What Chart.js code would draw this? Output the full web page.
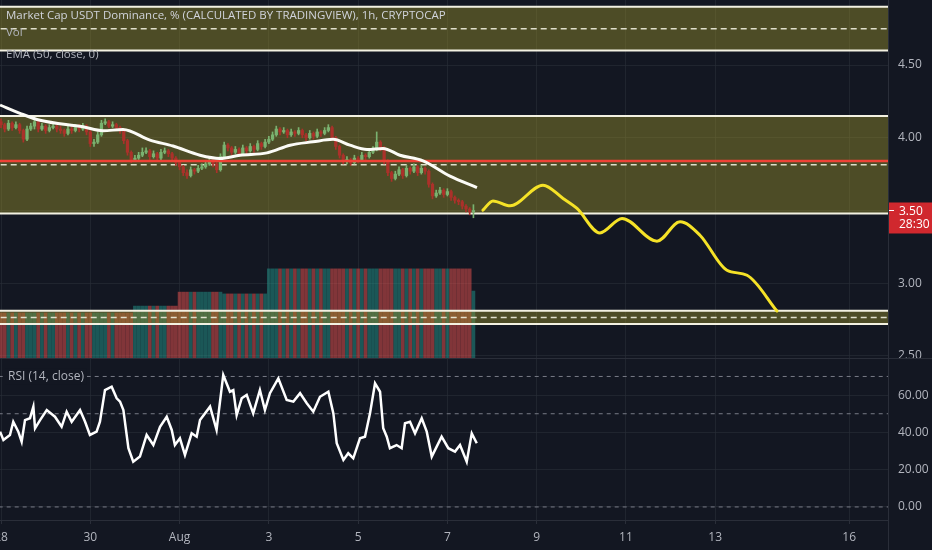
<!DOCTYPE html>
<html>
<head>
<meta charset="utf-8">
<title>Market Cap USDT Dominance</title>
<script src="https://cdn.jsdelivr.net/npm/chart.js@4.4.1/dist/chart.umd.min.js"></script>
<style>
  html, body { margin: 0; padding: 0; background: #131722; overflow: hidden; }
  .pane { position: absolute; left: 0; width: 932px; }
</style>
</head>
<body>
<div class="pane" style="top:0;height:358px"><canvas id="priceChart" width="932" height="358"></canvas></div>
<div class="pane" style="top:358px;height:192px"><canvas id="rsiChart" width="932" height="192"></canvas></div>
<script>
const FONT = "'Open Sans', 'Noto Sans', sans-serif";
const BG = '#131722';
const GRID = 'rgba(42, 46, 57, 0.6)';
const SEP = '#2a2e39';
const TEXT = '#b2b5be';

// time axis, in hours since 28 Jul 00:00
const tickHours = [0, 48, 96, 144, 192, 240, 288, 336, 384, 456];
const tickLabels = ['28', '30', 'Aug', '3', '5', '7', '9', '11', '13', '16'];
const priceTicks = [2.5, 3.0, 3.5, 4.0, 4.5];
const rsiTicks = [0, 20, 40, 60];

// 2h candles starting 28 Jul 00:00
const firstOpen = 4.11;
const closes = [
  4.09, 4.06, 4.10, 4.07, 4.09, 4.05, 3.99, 4.06, 4.08, 4.11,
  4.06, 4.08, 4.05, 4.07, 4.08, 4.06, 4.05, 4.03, 4.06, 4.05,
  4.07, 4.06, 4.08, 4.04, 3.96, 3.97, 4.02, 4.10, 4.11, 4.08,
  4.09, 4.07, 4.05, 3.98, 3.90, 3.85, 3.86, 3.88, 3.90, 3.91,
  3.87, 3.89, 3.86, 3.90, 3.91, 3.89, 3.86, 3.83, 3.80, 3.76,
  3.74, 3.78, 3.77, 3.79, 3.80, 3.82, 3.84, 3.82, 3.78, 3.87,
  3.95, 3.93, 3.90, 3.92, 3.89, 3.93, 3.91, 3.94, 3.92, 3.96,
  3.94, 3.97, 3.99, 4.02, 4.06, 4.04, 4.05, 4.02, 4.04, 4.03,
  4.05, 4.02, 4.00, 4.03, 4.01, 4.04, 4.03, 4.05, 4.07, 4.00,
  3.94, 3.88, 3.84, 3.85, 3.83, 3.86, 3.85, 3.88, 3.87, 3.90,
  3.92, 3.97, 3.93, 3.84, 3.76, 3.72, 3.75, 3.78, 3.74, 3.79,
  3.77, 3.80, 3.76, 3.79, 3.77, 3.68, 3.60, 3.62, 3.64, 3.61,
  3.63, 3.59, 3.57, 3.56, 3.53, 3.51, 3.49, 3.50
];
const highs = [
  4.13, 4.10, 4.12, 4.11, 4.11, 4.10, 4.06, 4.08, 4.10, 4.13,
  4.12, 4.10, 4.09, 4.09, 4.10, 4.09, 4.08, 4.06, 4.08, 4.08,
  4.09, 4.09, 4.10, 4.09, 4.05, 3.99, 4.04, 4.12, 4.13, 4.12,
  4.11, 4.10, 4.08, 4.06, 3.99, 3.91, 3.88, 3.90, 3.93, 3.93,
  3.92, 3.91, 3.90, 3.92, 3.93, 3.92, 3.90, 3.87, 3.84, 3.81,
  3.78, 3.80, 3.79, 3.81, 3.82, 3.84, 3.86, 3.85, 3.83, 3.89,
  3.97, 3.96, 3.94, 3.94, 3.93, 3.95, 3.94, 3.96, 3.95, 3.98,
  3.97, 3.99, 4.01, 4.04, 4.08, 4.07, 4.07, 4.06, 4.06, 4.05,
  4.07, 4.06, 4.03, 4.05, 4.04, 4.06, 4.05, 4.07, 4.09, 4.08,
  4.01, 3.95, 3.89, 3.87, 3.86, 3.88, 3.87, 3.90, 3.89, 3.92,
  3.94, 4.04, 3.98, 3.94, 3.85, 3.77, 3.77, 3.80, 3.79, 3.81,
  3.80, 3.82, 3.81, 3.81, 3.80, 3.78, 3.69, 3.64, 3.66, 3.65,
  3.65, 3.64, 3.60, 3.58, 3.57, 3.54, 3.52, 3.54
];
const lows = [
  4.07, 4.04, 4.05, 4.05, 4.06, 4.03, 3.97, 3.98, 4.05, 4.06,
  4.04, 4.05, 4.03, 4.04, 4.06, 4.04, 4.03, 4.01, 4.02, 4.03,
  4.04, 4.04, 4.05, 4.02, 3.94, 3.94, 3.96, 4.01, 4.09, 4.07,
  4.07, 4.05, 4.03, 3.96, 3.88, 3.83, 3.84, 3.85, 3.87, 3.89,
  3.85, 3.86, 3.84, 3.85, 3.89, 3.87, 3.84, 3.81, 3.78, 3.74,
  3.72, 3.73, 3.75, 3.76, 3.78, 3.79, 3.81, 3.80, 3.76, 3.77,
  3.86, 3.91, 3.88, 3.89, 3.87, 3.88, 3.89, 3.90, 3.90, 3.91,
  3.92, 3.93, 3.96, 3.98, 4.01, 4.02, 4.03, 4.00, 4.01, 4.01,
  4.02, 4.00, 3.98, 3.99, 3.99, 4.00, 4.01, 4.02, 4.04, 3.98,
  3.92, 3.86, 3.82, 3.82, 3.81, 3.82, 3.83, 3.84, 3.85, 3.86,
  3.89, 3.91, 3.91, 3.82, 3.74, 3.70, 3.71, 3.74, 3.72, 3.73,
  3.75, 3.76, 3.74, 3.75, 3.75, 3.66, 3.58, 3.59, 3.61, 3.59,
  3.60, 3.57, 3.55, 3.54, 3.51, 3.49, 3.47, 3.45
];

// volume per day, 28 Jul .. 7 Aug, plus the running candle
const dailyVolume = [1.26, 1.26, 1.26, 1.45, 1.84, 1.79, 2.49, 2.49, 2.49, 2.49, 2.49];
const lastVolume = 1.87;

// EMA(50)
const emaHours = [-0.5, 10.2, 21, 44.1, 54.8, 65.6, 80.1, 92.5, 107, 117.7, 128.5,
  143, 155.4, 167.7, 178.5, 187.6, 196.8, 205.4, 214.5, 226.9, 241.4, 255.9];
const emaValues = [4.225, 4.168, 4.12, 4.075, 4.048, 4.057, 3.984, 3.943, 3.88, 3.858, 3.88,
  3.896, 3.949, 3.972, 3.989, 3.949, 3.92, 3.927, 3.88, 3.841, 3.736, 3.658];

// hand drawn projection (yellow)
const forecastHours = [259.1, 264.5, 273.7, 291.4, 302.2, 309.7, 322, 333.9, 352.7, 365.1, 375.8, 390.3, 401.1, 417.2];
const forecastValues = [3.502, 3.566, 3.532, 3.674, 3.583, 3.514, 3.346, 3.445, 3.289, 3.422, 3.33, 3.089, 3.055, 2.809];

// rectangles and the red level
const bandTops = [4.90, 4.15, 2.81];
const bandBottoms = [4.60, 3.48, 2.72];
const redLevel = 3.84;

// RSI(14)
const rsiHours = [-0.5, 1.3, 4.8, 6.6, 9.3, 11.1, 12.9, 15.6, 17.4, 18.3,
  21, 24.6, 29, 32.6, 35.3, 38, 42.5, 45.2, 47.8, 51.4,
  53.2, 55.9, 59.5, 62.2, 64, 65.8, 68.5, 71.1, 74.7, 78.3,
  81.9, 85.5, 89.1, 91.8, 93.5, 96.2, 98.9, 102.5, 105.2, 107,
  112.4, 115.9, 119.5, 123.1, 124.9, 126.7, 129.4, 132.1, 135.6, 139.2,
  141.9, 144.6, 149.1, 153.6, 157.2, 160.8, 164.4, 167.9, 171.5, 176,
  178.7, 180.5, 184.1, 186.7, 189.4, 193, 195.7, 198.4, 201.1, 203.8,
  205.5, 207.4, 209.1, 212.7, 215.4, 217.2, 219.9, 222.6, 226.2, 228.9,
  231.6, 236.9, 240.5, 244.1, 246.8, 250.4, 253.1, 255.8];
const rsiValues = [40.4, 35.9, 38.6, 45.7, 40.4, 35, 46.6, 47.6, 53.8, 42.2,
  46.6, 52, 48.4, 43, 51.1, 45.7, 52, 45.7, 38.6, 40.4,
  45.7, 62.7, 64.5, 58.3, 56.5, 52, 31.5, 24.3, 27, 38.6,
  33.2, 43, 48.4, 41.3, 33.2, 36.8, 27.9, 39.5, 37.7, 46.6,
  53.8, 41.3, 70.8, 61.8, 62.7, 49.3, 58.3, 60.1, 50.2, 62.7,
  52, 61, 69, 57.4, 56.5, 61, 55.6, 51.1, 59.1, 61.8,
  50.2, 34.2, 25.2, 28.8, 26.1, 36.8, 37.7, 50.2, 66.3, 61.8,
  42.2, 37.7, 31.5, 33.2, 31.5, 44.9, 45.7, 39.5, 47.6, 40.4,
  27, 37.7, 31.5, 29.7, 33.2, 24.3, 39.5, 34.2];
const rsiLevels = [70, 50, 0];

const countdown = '28:30';

// visible ranges
const X_MIN = -0.54, X_MAX = 476.9;
const PRICE_MIN = 2.486, PRICE_MAX = 4.947;
const RSI_MIN = -7, RSI_MAX = 79.9;

const times = closes.map((_, i) => i * 2);
const opens = closes.map((c, i) => (i === 0 ? firstOpen : closes[i - 1]));
const isUp = closes.map((c, i) => c >= opens[i]);
const candleColors = isUp.map(u => (u ? '#7ab270' : '#ab312a'));
const volColors = isUp.map(u => (u ? 'rgba(38,166,154,0.45)' : 'rgba(239,83,80,0.5)'));
const volumes = times.map((t, i) => (i === times.length - 1 ? lastVolume : dailyVolume[Math.floor(t / 24)]));

const span = y => [{ x: X_MIN - 5, y }, { x: X_MAX + 5, y }];
const pairs = (xs, ys) => xs.map((x, i) => ({ x, y: ys[i] }));

const bgPlugin = {
  id: 'bg',
  beforeDraw(chart) {
    const ctx = chart.ctx;
    ctx.save();
    ctx.fillStyle = BG;
    ctx.fillRect(0, 0, chart.width, chart.height);
    ctx.restore();
  }
};

function timeAxis(showLabels) {
  return {
    type: 'linear', min: X_MIN, max: X_MAX, offset: false,
    grid: { color: GRID, drawTicks: showLabels, tickLength: 4, tickColor: SEP, offset: false },
    border: { display: showLabels, color: SEP },
    ticks: {
      display: showLabels, color: TEXT, padding: 6, maxRotation: 0, autoSkip: false,
      font: { family: FONT, size: 12 },
      callback: v => tickLabels[tickHours.indexOf(v)]
    },
    afterBuildTicks: s => { s.ticks = tickHours.map(v => ({ value: v })); },
    afterFit: s => { s.height = showLabels ? 30 : 0; s.paddingLeft = 0; s.paddingRight = 0; }
  };
}

function valueAxis(min, max, ticks) {
  return {
    position: 'right', min, max,
    grid: { color: GRID, drawTicks: false },
    border: { color: SEP },
    ticks: { color: TEXT, padding: 10, font: { family: FONT, size: 12 }, callback: v => v.toFixed(2) },
    afterBuildTicks: s => { s.ticks = ticks.map(v => ({ value: v })); },
    afterFit: s => { s.width = 44; s.paddingTop = 0; s.paddingBottom = 0; }
  };
}

// ---------- price pane ----------
const priceSets = [];
priceSets.push({
  type: 'bar', yAxisID: 'yv', data: pairs(times, volumes),
  backgroundColor: volColors, barThickness: 3, grouped: false, order: 10
});
bandTops.forEach((top, k) => {
  const bottom = bandBottoms[k];
  priceSets.push({ type: 'line', data: span(top), borderColor: '#f3f1e2', borderWidth: 2, pointRadius: 0, fill: false, order: 8 });
  priceSets.push({ type: 'line', data: span(bottom), borderColor: '#f3f1e2', borderWidth: 2, pointRadius: 0,
    fill: '-1', backgroundColor: 'rgba(155,145,45,0.43)', order: 8 });
  priceSets.push({ type: 'line', data: span((top + bottom) / 2), borderColor: 'rgba(240,238,222,0.9)', borderWidth: 1.5,
    borderDash: [6, 4], pointRadius: 0, fill: false, order: 7 });
});
priceSets.push({
  type: 'bar', data: times.map((t, i) => ({ x: t, y: [lows[i], highs[i]] })),
  backgroundColor: candleColors, barThickness: 1, grouped: false, order: 6
});
priceSets.push({
  type: 'bar', data: times.map((t, i) => ({ x: t, y: [opens[i], closes[i]] })),
  backgroundColor: candleColors, barThickness: 2.6, minBarLength: 1, grouped: false, order: 5
});
priceSets.push({ type: 'line', data: span(redLevel), borderColor: '#ee4236', borderWidth: 2.5, pointRadius: 0, fill: false, order: 4 });
priceSets.push({
  type: 'line', data: pairs(emaHours, emaValues), borderColor: '#fbfbf6', borderWidth: 3,
  pointRadius: 0, fill: false, cubicInterpolationMode: 'monotone', order: 2
});
priceSets.push({
  type: 'line', data: pairs(forecastHours, forecastValues), borderColor: '#f5e227', borderWidth: 3,
  pointRadius: 0, fill: false, cubicInterpolationMode: 'monotone', borderCapStyle: 'round', order: 1
});

const priceOverlay = {
  id: 'priceOverlay',
  afterDraw(chart) {
    const ctx = chart.ctx;
    ctx.save();
    // legend
    ctx.textBaseline = 'middle';
    ctx.textAlign = 'left';
    const title = 'Market Cap USDT Dominance, % (CALCULATED BY TRADINGVIEW), 1h, CRYPTOCAP';
    ctx.font = `13px ${FONT}`;
    const size = Math.min(13.5, 13 * 440 / ctx.measureText(title).width);
    ctx.font = `${size}px ${FONT}`;
    ctx.fillStyle = '#d1d4dc';
    ctx.fillText(title, 6, 16);
    ctx.fillStyle = TEXT;
    ctx.fillText('Vol', 6, 33);
    ctx.fillText('EMA (50, close, 0)', 6, 55);

    // last price label
    const last = closes[closes.length - 1];
    const y = chart.scales.y.getPixelForValue(last);
    const left = chart.chartArea.right + 1;
    ctx.fillStyle = '#d0282e';
    ctx.fillRect(left, y - 8, chart.width - left, 31);
    ctx.strokeStyle = '#ffffff';
    ctx.lineWidth = 1;
    ctx.beginPath();
    ctx.moveTo(left, Math.round(y) + 0.5);
    ctx.lineTo(left + 5, Math.round(y) + 0.5);
    ctx.stroke();
    ctx.fillStyle = '#ffffff';
    ctx.font = `12px ${FONT}`;
    ctx.fillText(last.toFixed(2), left + 10, y + 1);
    ctx.fillText(countdown, left + 10, y + 14);
    ctx.restore();
  }
};

new Chart(document.getElementById('priceChart'), {
  type: 'bar',
  data: { datasets: priceSets },
  options: {
    responsive: false, animation: false, events: [],
    layout: { padding: 0 },
    plugins: { legend: { display: false }, tooltip: { enabled: false } },
    scales: {
      x: timeAxis(false),
      y: valueAxis(PRICE_MIN, PRICE_MAX, priceTicks),
      yv: { type: 'linear', display: false, min: 0, max: 10 }
    }
  },
  plugins: [bgPlugin, priceOverlay]
});

// ---------- RSI pane ----------
const rsiSets = rsiLevels.map(level => ({
  type: 'line', data: span(level), borderColor: '#787b86', borderWidth: 1, borderDash: [4, 4],
  pointRadius: 0, fill: false, order: 3
}));
rsiSets.push({
  type: 'line', data: pairs(rsiHours, rsiValues), borderColor: '#ffffff', borderWidth: 2.5,
  pointRadius: 0, fill: false, tension: 0, order: 1
});

const rsiOverlay = {
  id: 'rsiOverlay',
  afterDraw(chart) {
    const ctx = chart.ctx;
    const area = chart.chartArea;
    ctx.save();
    ctx.strokeStyle = SEP;
    ctx.lineWidth = 1;
    ctx.beginPath();
    ctx.moveTo(0, 0.5);
    ctx.lineTo(chart.width, 0.5);
    ctx.moveTo(area.right + 0.5, area.bottom);
    ctx.lineTo(area.right + 0.5, chart.height);
    ctx.stroke();

    const label = 'RSI (14, close)';
    ctx.font = `12px ${FONT}`;
    const w = ctx.measureText(label).width;
    const y = chart.scales.y.getPixelForValue(rsiLevels[0]);
    ctx.fillStyle = BG;
    ctx.fillRect(5, y - 8, w + 6, 16);
    ctx.fillStyle = TEXT;
    ctx.textBaseline = 'middle';
    ctx.fillText(label, 8, y);
    ctx.restore();
  }
};

new Chart(document.getElementById('rsiChart'), {
  type: 'line',
  data: { datasets: rsiSets },
  options: {
    responsive: false, animation: false, events: [],
    layout: { padding: 0 },
    plugins: { legend: { display: false }, tooltip: { enabled: false } },
    scales: {
      x: timeAxis(true),
      y: valueAxis(RSI_MIN, RSI_MAX, rsiTicks)
    }
  },
  plugins: [bgPlugin, rsiOverlay]
});
</script>
</body>
</html>
